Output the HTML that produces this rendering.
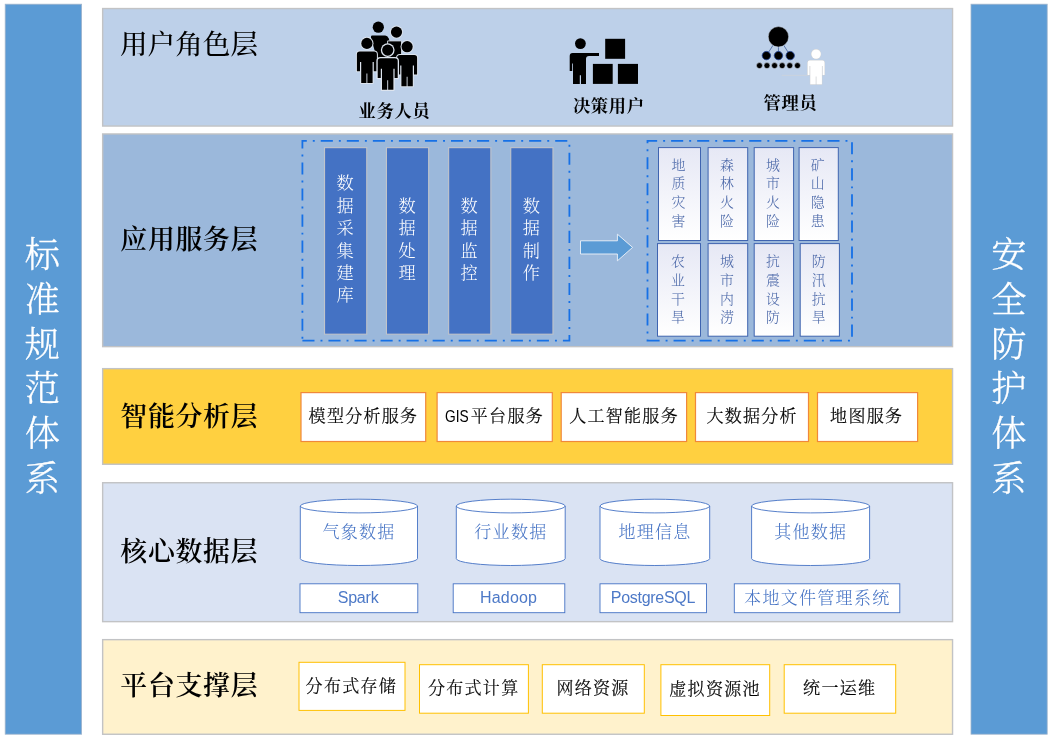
<!DOCTYPE html>
<html lang="zh-CN">
<head>
<meta charset="utf-8">
<title>系统总体架构</title>
<style>
html, body { margin: 0; padding: 0; background: #ffffff; }
body { width: 1051px; height: 739px; overflow: hidden; font-family: "Liberation Serif", "Noto Serif CJK SC", serif; }
svg { display: block; will-change: transform; transform: translateZ(0); }
svg text { font-family: "Liberation Serif", "Noto Serif CJK SC", serif; }
svg .b { stroke-width: 0.22px; }
svg .sans { font-family: "Liberation Sans", "Noto Sans CJK SC", sans-serif; }
</style>
</head>
<body>
<svg width="1051" height="739" viewBox="0 0 1051 739">
<defs>
<linearGradient id="gbox" x1="0" y1="0" x2="0" y2="1">
<stop offset="0" stop-color="#E6E8F5"/>
<stop offset="1" stop-color="#FFFFFF"/>
</linearGradient>
</defs>
<rect x="5.20" y="4.20" width="76.40" height="730.00" fill="#5B9BD5" stroke="#9fb4cc" stroke-width="0.8" />
<rect x="971.00" y="4.20" width="76.20" height="730.00" fill="#5B9BD5" stroke="#9fb4cc" stroke-width="0.8" />
<text font-size="35.2" fill="#fff" font-weight="300" text-anchor="middle" stroke="#fff" stroke-width="0.3"><tspan x="42.40" y="267.00">标</tspan><tspan x="42.40" y="311.80">准</tspan><tspan x="42.40" y="356.60">规</tspan><tspan x="42.40" y="401.40">范</tspan><tspan x="42.40" y="446.20">体</tspan><tspan x="42.40" y="491.00">系</tspan></text>
<text font-size="35.2" fill="#fff" font-weight="300" text-anchor="middle" stroke="#fff" stroke-width="0.3"><tspan x="1008.90" y="267.00">安</tspan><tspan x="1008.90" y="311.80">全</tspan><tspan x="1008.90" y="356.60">防</tspan><tspan x="1008.90" y="401.40">护</tspan><tspan x="1008.90" y="446.20">体</tspan><tspan x="1008.90" y="491.00">系</tspan></text>
<rect x="102.65" y="8.55" width="849.90" height="117.50" fill="#BDD0E9" stroke="#c2c3c5" stroke-width="1.4" />
<rect x="102.65" y="133.95" width="849.90" height="212.70" fill="#9BB8DB" stroke="#c2c3c5" stroke-width="1.4" />
<rect x="102.65" y="368.65" width="849.90" height="95.60" fill="#FFD040" stroke="#c2c3c5" stroke-width="1.4" />
<rect x="102.65" y="482.75" width="849.90" height="138.90" fill="#DAE3F3" stroke="#c2c3c5" stroke-width="1.4" />
<rect x="102.65" y="639.65" width="849.90" height="94.60" fill="#FFF2CC" stroke="#c2c3c5" stroke-width="1.4" />
<text x="120.00" y="54.00" font-size="27.6" fill="#000" font-weight="500" text-anchor="start" >用户角色层</text>
<text x="120.30" y="249.20" font-size="26.9" fill="#000" font-weight="600" text-anchor="start" letter-spacing="0.7" >应用服务层</text>
<text x="120.30" y="425.70" font-size="26.9" fill="#000" font-weight="600" text-anchor="start" letter-spacing="0.7" >智能分析层</text>
<text x="120.30" y="560.70" font-size="26.9" fill="#000" font-weight="600" text-anchor="start" letter-spacing="0.7" >核心数据层</text>
<text x="120.30" y="695.20" font-size="26.9" fill="#000" font-weight="600" text-anchor="start" letter-spacing="0.7" >平台支撑层</text>
<circle cx="378.3" cy="27.2" r="5.6" fill="#000"/>
<path d="M372.2,35.4 H385.2 Q387.6,35.6 388.6,38.2 L390,42 V62 H378 L371,38 V36.6 Q371,35.4 372.2,35.4 Z" fill="#000"/>
<path d="M387.6,40.9 H401.6 V60 H387.6 Z" fill="#000" stroke="#dde4ee" stroke-width="0.9"/>
<circle cx="396.5" cy="32.1" r="6.5" fill="#dde4ee"/>
<circle cx="396.5" cy="32.1" r="5.6" fill="#000"/>
<path d="M359.70,51.60 H374.10 Q376.90,51.60 376.90,54.40 V71.30 H373.80 V62.10 H372.60 V83.00 H367.35 V73.50 H366.45 V83.00 H361.20 V62.10 H360.00 V71.30 H356.90 V54.40 Q356.90,51.60 359.70,51.60 Z" fill="#dde4ee" stroke="#dde4ee" stroke-width="2.0" stroke-linejoin="round"/>
<circle cx="366.90" cy="43.40" r="6.6" fill="#dde4ee"/>
<path d="M359.70,51.60 H374.10 Q376.90,51.60 376.90,54.40 V71.30 H373.80 V62.10 H372.60 V83.00 H367.35 V73.50 H366.45 V83.00 H361.20 V62.10 H360.00 V71.30 H356.90 V54.40 Q356.90,51.60 359.70,51.60 Z" fill="#000"/>
<circle cx="366.90" cy="43.40" r="5.6" fill="#000"/>
<path d="M399.90,54.90 H414.30 Q417.10,54.90 417.10,57.70 V74.60 H414.00 V65.40 H412.80 V86.30 H407.55 V76.80 H406.65 V86.30 H401.40 V65.40 H400.20 V74.60 H397.10 V57.70 Q397.10,54.90 399.90,54.90 Z" fill="#dde4ee" stroke="#dde4ee" stroke-width="2.0" stroke-linejoin="round"/>
<circle cx="407.10" cy="46.70" r="6.6" fill="#dde4ee"/>
<path d="M399.90,54.90 H414.30 Q417.10,54.90 417.10,57.70 V74.60 H414.00 V65.40 H412.80 V86.30 H407.55 V76.80 H406.65 V86.30 H401.40 V65.40 H400.20 V74.60 H397.10 V57.70 Q397.10,54.90 399.90,54.90 Z" fill="#000"/>
<circle cx="407.10" cy="46.70" r="5.6" fill="#000"/>
<path d="M380.50,58.30 H394.90 Q397.70,58.30 397.70,61.10 V78.00 H394.60 V68.80 H393.40 V89.70 H388.15 V80.20 H387.25 V89.70 H382.00 V68.80 H380.80 V78.00 H377.70 V61.10 Q377.70,58.30 380.50,58.30 Z" fill="#dde4ee" stroke="#dde4ee" stroke-width="2.6" stroke-linejoin="round"/>
<circle cx="387.70" cy="50.10" r="6.8999999999999995" fill="#dde4ee"/>
<path d="M380.50,58.30 H394.90 Q397.70,58.30 397.70,61.10 V78.00 H394.60 V68.80 H393.40 V89.70 H388.15 V80.20 H387.25 V89.70 H382.00 V68.80 H380.80 V78.00 H377.70 V61.10 Q377.70,58.30 380.50,58.30 Z" fill="#000"/>
<circle cx="387.70" cy="50.10" r="5.6" fill="#000"/>
<text x="394.55" y="116.90" font-size="17.3" fill="#000" font-weight="700" text-anchor="middle" letter-spacing="0.7" >业务人员</text>
<circle cx="580.4" cy="43.6" r="5.4" fill="#000"/>
<path d="M572.6,53.1 H599 V55.9 H589 Q586,55.9 586,59 V83.9 H581 V75.2 H579.8 V83.9 H573 V63.5 H572.2 V70.9 H569.7 V56 Q569.7,53.1 572.6,53.1 Z" fill="#000"/>
<rect x="605.20" y="38.80" width="19.90" height="20.00" fill="#000" />
<rect x="592.90" y="63.90" width="19.80" height="20.00" fill="#000" />
<rect x="617.90" y="63.90" width="20.10" height="20.00" fill="#000" />
<text x="608.85" y="112.30" font-size="17.3" fill="#000" font-weight="700" text-anchor="middle" letter-spacing="0.7" >决策用户</text>
<g stroke="#2F4F8F" stroke-width="0.7"><line x1="778.45" y1="36.8" x2="766.4" y2="55.6"/><line x1="778.45" y1="36.8" x2="778.45" y2="55.6"/><line x1="778.45" y1="36.8" x2="790.2" y2="55.6"/></g>
<g stroke="#d4dbe6" stroke-width="0.5"><line x1="766.4" y1="55.6" x2="759.5" y2="65.6"/><line x1="778.45" y1="55.6" x2="774.6" y2="65.6"/><line x1="778.45" y1="55.6" x2="782.2" y2="65.6"/><line x1="790.2" y1="55.6" x2="797.4" y2="65.6"/></g>
<circle cx="778.45" cy="36.8" r="10.2" fill="#000" stroke="#cfd8e6" stroke-width="0.5"/>
<circle cx="766.4" cy="55.6" r="4.2" fill="#000" stroke="#1F3F8F" stroke-width="0.8"/>
<circle cx="778.45" cy="55.6" r="4.2" fill="#000" stroke="#1F3F8F" stroke-width="0.8"/>
<circle cx="790.2" cy="55.6" r="4.2" fill="#000" stroke="#1F3F8F" stroke-width="0.8"/>
<circle cx="759.45" cy="65.6" r="3.0" fill="#000" stroke="#cfd8e6" stroke-width="0.6"/>
<circle cx="766.96" cy="65.6" r="3.0" fill="#000" stroke="#cfd8e6" stroke-width="0.6"/>
<circle cx="774.56" cy="65.6" r="3.0" fill="#000" stroke="#cfd8e6" stroke-width="0.6"/>
<circle cx="782.16" cy="65.6" r="3.0" fill="#000" stroke="#cfd8e6" stroke-width="0.6"/>
<circle cx="789.76" cy="65.6" r="3.0" fill="#000" stroke="#cfd8e6" stroke-width="0.6"/>
<circle cx="797.46" cy="65.6" r="3.0" fill="#000" stroke="#cfd8e6" stroke-width="0.6"/>
<line x1="781.7" y1="75.35" x2="808" y2="75.35" stroke="#cfd3d8" stroke-width="0.7"/>
<path d="M809.70,60.40 H822.50 Q824.50,60.40 824.50,62.40 V75.10 H822.70 V66.00 H821.90 V84.30 H816.50 V76.60 H815.70 V84.30 H810.30 V66.00 H809.50 V75.10 H807.70 V62.40 Q807.70,60.40 809.70,60.40 Z" fill="#d4d4d4" stroke="#d4d4d4" stroke-width="0.8" stroke-linejoin="round"/>
<circle cx="816.10" cy="54.10" r="5.1000000000000005" fill="#d4d4d4"/>
<path d="M809.70,60.40 H822.50 Q824.50,60.40 824.50,62.40 V75.10 H822.70 V66.00 H821.90 V84.30 H816.50 V76.60 H815.70 V84.30 H810.30 V66.00 H809.50 V75.10 H807.70 V62.40 Q807.70,60.40 809.70,60.40 Z" fill="#fff"/>
<circle cx="816.10" cy="54.10" r="4.7" fill="#fff"/>
<text x="790.55" y="109.30" font-size="17.3" fill="#000" font-weight="700" text-anchor="middle" letter-spacing="0.7" >管理员</text>
<path d="M302.4,340.6 H569.4 V140.8 H302.4 Z" fill="none" stroke="#1670E6" stroke-width="1.8" stroke-dasharray="12.1 6 1.95 6"/>
<path d="M647.5,340.6 H852.0 V140.8 H647.5 Z" fill="none" stroke="#1670E6" stroke-width="1.8" stroke-dasharray="12.1 6 1.95 6"/>
<rect x="324.55" y="147.65" width="42.20" height="186.55" fill="#4472C4" stroke="#c0c4ca" stroke-width="1.1" />
<text font-size="17.2" fill="#fff" font-weight="300" text-anchor="middle" ><tspan x="345.10" y="189.30">数</tspan><tspan x="345.10" y="211.70">据</tspan><tspan x="345.10" y="234.10">采</tspan><tspan x="345.10" y="256.50">集</tspan><tspan x="345.10" y="278.90">建</tspan><tspan x="345.10" y="301.30">库</tspan></text>
<rect x="386.45" y="147.65" width="42.20" height="186.55" fill="#4472C4" stroke="#c0c4ca" stroke-width="1.1" />
<text font-size="17.2" fill="#fff" font-weight="300" text-anchor="middle" ><tspan x="407.00" y="211.70">数</tspan><tspan x="407.00" y="234.10">据</tspan><tspan x="407.00" y="256.50">处</tspan><tspan x="407.00" y="278.90">理</tspan></text>
<rect x="448.65" y="147.65" width="42.20" height="186.55" fill="#4472C4" stroke="#c0c4ca" stroke-width="1.1" />
<text font-size="17.2" fill="#fff" font-weight="300" text-anchor="middle" ><tspan x="469.20" y="211.70">数</tspan><tspan x="469.20" y="234.10">据</tspan><tspan x="469.20" y="256.50">监</tspan><tspan x="469.20" y="278.90">控</tspan></text>
<rect x="510.75" y="147.65" width="42.20" height="186.55" fill="#4472C4" stroke="#c0c4ca" stroke-width="1.1" />
<text font-size="17.2" fill="#fff" font-weight="300" text-anchor="middle" ><tspan x="531.30" y="211.70">数</tspan><tspan x="531.30" y="234.10">据</tspan><tspan x="531.30" y="256.50">制</tspan><tspan x="531.30" y="278.90">作</tspan></text>
<path d="M580.5,240.8 H617.4 V234.2 L632.6,247.4 L617.4,260.8 V254 H580.5 Z" fill="#5B9BD5" stroke="#eef3f9" stroke-width="0.9" stroke-linejoin="miter"/>
<rect x="658.50" y="147.60" width="42.00" height="92.90" fill="url(#gbox)" stroke="#3F64B0" stroke-width="1.0" />
<text font-size="13.9" fill="#4A67A8" font-weight="300" text-anchor="middle" ><tspan x="678.50" y="169.50">地</tspan><tspan x="678.50" y="188.40">质</tspan><tspan x="678.50" y="207.30">灾</tspan><tspan x="678.50" y="226.20">害</tspan></text>
<rect x="708.10" y="147.60" width="39.60" height="92.90" fill="url(#gbox)" stroke="#3F64B0" stroke-width="1.0" />
<text font-size="13.9" fill="#4A67A8" font-weight="300" text-anchor="middle" ><tspan x="726.90" y="169.50">森</tspan><tspan x="726.90" y="188.40">林</tspan><tspan x="726.90" y="207.30">火</tspan><tspan x="726.90" y="226.20">险</tspan></text>
<rect x="754.20" y="147.60" width="39.40" height="92.90" fill="url(#gbox)" stroke="#3F64B0" stroke-width="1.0" />
<text font-size="13.9" fill="#4A67A8" font-weight="300" text-anchor="middle" ><tspan x="772.90" y="169.50">城</tspan><tspan x="772.90" y="188.40">市</tspan><tspan x="772.90" y="207.30">火</tspan><tspan x="772.90" y="226.20">险</tspan></text>
<rect x="799.10" y="147.60" width="39.20" height="92.90" fill="url(#gbox)" stroke="#3F64B0" stroke-width="1.0" />
<text font-size="13.9" fill="#4A67A8" font-weight="300" text-anchor="middle" ><tspan x="817.70" y="169.50">矿</tspan><tspan x="817.70" y="188.40">山</tspan><tspan x="817.70" y="207.30">隐</tspan><tspan x="817.70" y="226.20">患</tspan></text>
<rect x="657.50" y="243.60" width="43.00" height="92.60" fill="url(#gbox)" stroke="#3F64B0" stroke-width="1.0" />
<text font-size="13.9" fill="#4A67A8" font-weight="300" text-anchor="middle" ><tspan x="678.00" y="265.70">农</tspan><tspan x="678.00" y="284.60">业</tspan><tspan x="678.00" y="303.50">干</tspan><tspan x="678.00" y="322.40">旱</tspan></text>
<rect x="708.10" y="243.60" width="39.60" height="92.60" fill="url(#gbox)" stroke="#3F64B0" stroke-width="1.0" />
<text font-size="13.9" fill="#4A67A8" font-weight="300" text-anchor="middle" ><tspan x="726.90" y="265.70">城</tspan><tspan x="726.90" y="284.60">市</tspan><tspan x="726.90" y="303.50">内</tspan><tspan x="726.90" y="322.40">涝</tspan></text>
<rect x="754.20" y="243.60" width="39.40" height="92.60" fill="url(#gbox)" stroke="#3F64B0" stroke-width="1.0" />
<text font-size="13.9" fill="#4A67A8" font-weight="300" text-anchor="middle" ><tspan x="772.90" y="265.70">抗</tspan><tspan x="772.90" y="284.60">震</tspan><tspan x="772.90" y="303.50">设</tspan><tspan x="772.90" y="322.40">防</tspan></text>
<rect x="800.20" y="243.60" width="39.20" height="92.60" fill="url(#gbox)" stroke="#3F64B0" stroke-width="1.0" />
<text font-size="13.9" fill="#4A67A8" font-weight="300" text-anchor="middle" ><tspan x="818.80" y="265.70">防</tspan><tspan x="818.80" y="284.60">汛</tspan><tspan x="818.80" y="303.50">抗</tspan><tspan x="818.80" y="322.40">旱</tspan></text>
<rect x="301.00" y="392.60" width="124.70" height="48.90" fill="#fff" stroke="#F0883A" stroke-width="1.2" />
<text x="363.50" y="422.20" font-size="17.0" fill="#000" font-weight="300" text-anchor="middle" letter-spacing="1.3" stroke="#000" class="b">模型分析服务</text>
<rect x="437.10" y="392.60" width="115.20" height="48.90" fill="#fff" stroke="#F0883A" stroke-width="1.2" />
<rect x="561.20" y="392.60" width="125.40" height="48.90" fill="#fff" stroke="#F0883A" stroke-width="1.2" />
<text x="624.05" y="422.20" font-size="17.0" fill="#000" font-weight="300" text-anchor="middle" letter-spacing="1.3" stroke="#000" class="b">人工智能服务</text>
<rect x="695.50" y="392.60" width="113.00" height="48.90" fill="#fff" stroke="#F0883A" stroke-width="1.2" />
<text x="752.15" y="422.20" font-size="17.0" fill="#000" font-weight="300" text-anchor="middle" letter-spacing="1.3" stroke="#000" class="b">大数据分析</text>
<rect x="817.50" y="392.60" width="100.10" height="48.90" fill="#fff" stroke="#F0883A" stroke-width="1.2" />
<text x="866.70" y="422.20" font-size="17.0" fill="#000" font-weight="300" text-anchor="middle" letter-spacing="1.3" stroke="#000" class="b">地图服务</text>
<text transform="translate(445.0,422.3) scale(0.86,1)" font-size="16" fill="#000" text-anchor="start" class="sans">GIS</text>
<text x="470.8" y="422.2" font-size="17.0" fill="#000" font-weight="300" text-anchor="start" letter-spacing="1.3" stroke="#000" class="b">平台服务</text>
<path d="M300.30,506.05 A58.60,6.85 0 0 1 417.50,506.05 V558.65 A58.60,6.85 0 0 1 300.30,558.65 Z" fill="#fff" stroke="#4472C4" stroke-width="0.9"/>
<path d="M300.30,506.05 A58.60,6.85 0 0 0 417.50,506.05" fill="none" stroke="#4472C4" stroke-width="0.9"/>
<text x="359.05" y="537.80" font-size="17.0" fill="#4472C4" font-weight="300" text-anchor="middle" letter-spacing="1.3" >气象数据</text>
<path d="M456.30,506.05 A54.45,6.85 0 0 1 565.20,506.05 V558.65 A54.45,6.85 0 0 1 456.30,558.65 Z" fill="#fff" stroke="#4472C4" stroke-width="0.9"/>
<path d="M456.30,506.05 A54.45,6.85 0 0 0 565.20,506.05" fill="none" stroke="#4472C4" stroke-width="0.9"/>
<text x="510.90" y="537.80" font-size="17.0" fill="#4472C4" font-weight="300" text-anchor="middle" letter-spacing="1.3" >行业数据</text>
<path d="M600.00,506.05 A54.85,6.85 0 0 1 709.70,506.05 V558.65 A54.85,6.85 0 0 1 600.00,558.65 Z" fill="#fff" stroke="#4472C4" stroke-width="0.9"/>
<path d="M600.00,506.05 A54.85,6.85 0 0 0 709.70,506.05" fill="none" stroke="#4472C4" stroke-width="0.9"/>
<text x="655.00" y="537.80" font-size="17.0" fill="#4472C4" font-weight="300" text-anchor="middle" letter-spacing="1.3" >地理信息</text>
<path d="M751.60,506.05 A59.00,6.85 0 0 1 869.60,506.05 V558.65 A59.00,6.85 0 0 1 751.60,558.65 Z" fill="#fff" stroke="#4472C4" stroke-width="0.9"/>
<path d="M751.60,506.05 A59.00,6.85 0 0 0 869.60,506.05" fill="none" stroke="#4472C4" stroke-width="0.9"/>
<text x="810.75" y="537.80" font-size="17.0" fill="#4472C4" font-weight="300" text-anchor="middle" letter-spacing="1.3" >其他数据</text>
<rect x="300.00" y="583.80" width="117.80" height="28.90" fill="#fff" stroke="#4472C4" stroke-width="0.9" />
<text x="358.10" y="603.40" font-size="16" fill="#4D79C7" font-weight="400" text-anchor="middle" class="sans" letter-spacing="-0.2" >Spark</text>
<rect x="453.20" y="583.80" width="111.60" height="28.90" fill="#fff" stroke="#4472C4" stroke-width="0.9" />
<text x="508.60" y="603.40" font-size="16" fill="#4D79C7" font-weight="400" text-anchor="middle" class="sans" letter-spacing="0.2" >Hadoop</text>
<rect x="600.00" y="583.80" width="106.50" height="28.90" fill="#fff" stroke="#4472C4" stroke-width="0.9" />
<text x="652.95" y="603.40" font-size="16" fill="#4D79C7" font-weight="400" text-anchor="middle" class="sans" letter-spacing="-0.3" >PostgreSQL</text>
<rect x="734.30" y="583.80" width="165.50" height="28.90" fill="#fff" stroke="#4472C4" stroke-width="0.9" />
<text x="817.30" y="604.20" font-size="17.0" fill="#4472C4" font-weight="300" text-anchor="middle" letter-spacing="1.3" >本地文件管理系统</text>
<rect x="299.00" y="662.30" width="106.00" height="48.10" fill="#fff" stroke="#FFC000" stroke-width="1.0" />
<text x="351.35" y="692.00" font-size="17.0" fill="#000" font-weight="300" text-anchor="middle" letter-spacing="1.3" stroke="#000" class="b">分布式存储</text>
<rect x="419.50" y="664.70" width="108.90" height="48.50" fill="#fff" stroke="#FFC000" stroke-width="1.0" />
<text x="473.70" y="694.20" font-size="17.0" fill="#000" font-weight="300" text-anchor="middle" letter-spacing="1.3" stroke="#000" class="b">分布式计算</text>
<rect x="542.30" y="664.70" width="102.00" height="48.50" fill="#fff" stroke="#FFC000" stroke-width="1.0" />
<text x="593.05" y="694.20" font-size="17.0" fill="#000" font-weight="300" text-anchor="middle" letter-spacing="1.3" stroke="#000" class="b">网络资源</text>
<rect x="660.90" y="664.70" width="108.80" height="50.80" fill="#fff" stroke="#FFC000" stroke-width="1.0" />
<text x="715.05" y="695.40" font-size="17.0" fill="#000" font-weight="300" text-anchor="middle" letter-spacing="1.3" stroke="#000" class="b">虚拟资源池</text>
<rect x="784.20" y="664.70" width="111.50" height="48.50" fill="#fff" stroke="#FFC000" stroke-width="1.0" />
<text x="839.70" y="694.20" font-size="17.0" fill="#000" font-weight="300" text-anchor="middle" letter-spacing="1.3" stroke="#000" class="b">统一运维</text>
</svg>
</body>
</html>
